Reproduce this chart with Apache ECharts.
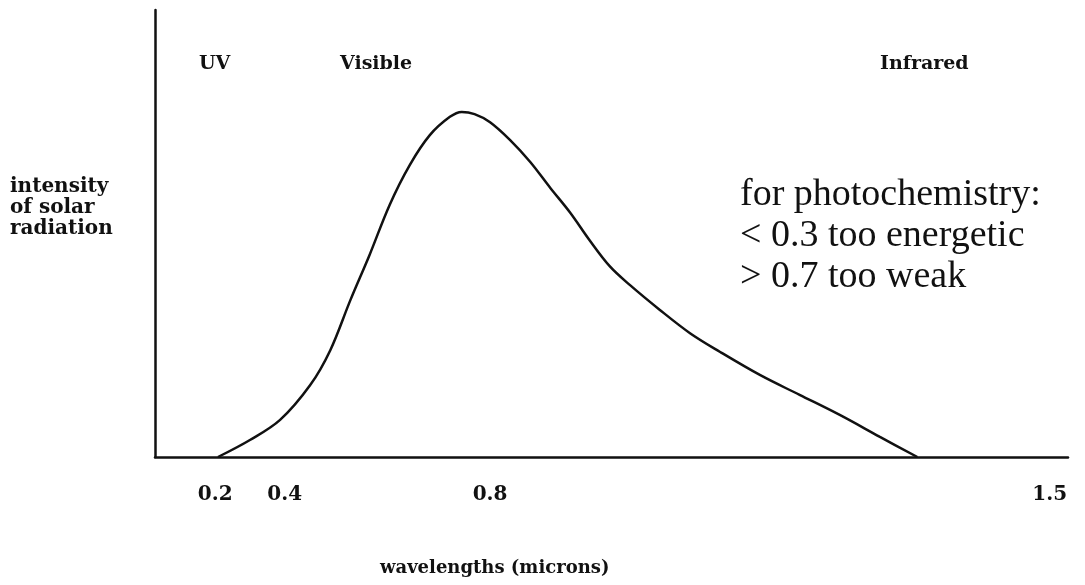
<!DOCTYPE html>
<html>
<head>
<meta charset="utf-8">
<script src="https://cdn.jsdelivr.net/npm/echarts@6/dist/echarts.min.js"></script>
<style>
  html, body { margin: 0; padding: 0; background: #ffffff; }
  #chart { width: 1085px; height: 585px; }
</style>
</head>
<body>
<div id="chart"></div>
<script>
// Schematic solar spectrum. The horizontal axis is a schematic position scale
// (0-100); wavelength labels are pinned to positions along it.
const tickPositions = [6.6, 14.2, 36.7, 98.0];
const tickLabels = ['0.2', '0.4', '0.8', '1.5'];

// Curve: position along the axis, relative intensity (0-100)
const curveX = [6.9, 10.4, 13.7, 17.0, 19.2, 21.4, 23.5, 25.7, 27.9, 30.1, 32.3, 33.6,
  35.0, 36.7, 38.9, 41.1, 43.3, 45.5, 47.6, 49.8, 52.0, 55.3, 58.6, 61.9, 66.3, 70.6,
  75.0, 79.4, 83.5];
const curveY = [0, 3.8, 8.3, 16.1, 23.9, 35.1, 45.2, 56.4, 65.3, 72.0, 76.1, 77.2,
  76.7, 74.9, 70.9, 66.0, 60.2, 54.6, 48.5, 42.7, 38.5, 32.9, 27.7, 23.5, 18.3, 13.9,
  9.4, 4.5, 0];

const regionNames = ['UV', 'Visible', 'Infrared'];
const noteLines = ['for photochemistry:', '< 0.3 too energetic', '> 0.7 too weak'];
const yTitleLines = ['intensity', 'of solar', 'radiation'];
const xTitle = 'wavelengths (microns)';

const ink = '#111111';
function boldSerif(size) {
  return { fontFamily: 'DejaVu Serif', fontWeight: 'bold', fontSize: size, fill: ink };
}

const chart = echarts.init(document.getElementById('chart'), null, { renderer: 'canvas' });

chart.setOption({
  backgroundColor: '#ffffff',
  animation: false,
  grid: { left: 155, right: 17, top: 10, bottom: 128 },
  xAxis: {
    type: 'value',
    min: 0,
    max: 100,
    axisLine: { show: true, lineStyle: { color: ink, width: 2.5 } },
    axisTick: { show: false },
    splitLine: { show: false },
    axisLabel: {
      customValues: tickPositions,
      formatter: (v) => {
        const i = tickPositions.indexOf(v);
        return i >= 0 ? tickLabels[i] : '';
      },
      margin: 28,
      color: ink,
      fontFamily: 'DejaVu Serif',
      fontWeight: 'bold',
      fontSize: 20
    }
  },
  yAxis: {
    type: 'value',
    min: 0,
    max: 100,
    axisLine: { show: true, lineStyle: { color: ink, width: 2.5 } },
    axisTick: { show: false },
    axisLabel: { show: false },
    splitLine: { show: false }
  },
  series: [{
    type: 'line',
    data: curveX.map((x, i) => [x, curveY[i]]),
    smooth: 0.35,
    showSymbol: false,
    lineStyle: { color: ink, width: 2.5 }
  }],
  graphic: [
    { type: 'text', left: 199, top: 55, style: Object.assign({ text: regionNames[0] }, boldSerif(19)) },
    { type: 'text', left: 340, top: 55, style: Object.assign({ text: regionNames[1] }, boldSerif(19)) },
    { type: 'text', left: 880, top: 55, style: Object.assign({ text: regionNames[2] }, boldSerif(19)) },
    { type: 'text', left: 10, top: 176, style: Object.assign({ text: yTitleLines.join('\n'), lineHeight: 21 }, boldSerif(20)) },
    { type: 'text', left: 380, top: 559, style: Object.assign({ text: xTitle }, boldSerif(18)) },
    {
      type: 'text', left: 740, top: 175,
      style: {
        text: noteLines.join('\n'),
        fontFamily: 'Liberation Serif',
        fontSize: 38,
        lineHeight: 41,
        fill: ink
      }
    }
  ]
});
</script>
</body>
</html>
